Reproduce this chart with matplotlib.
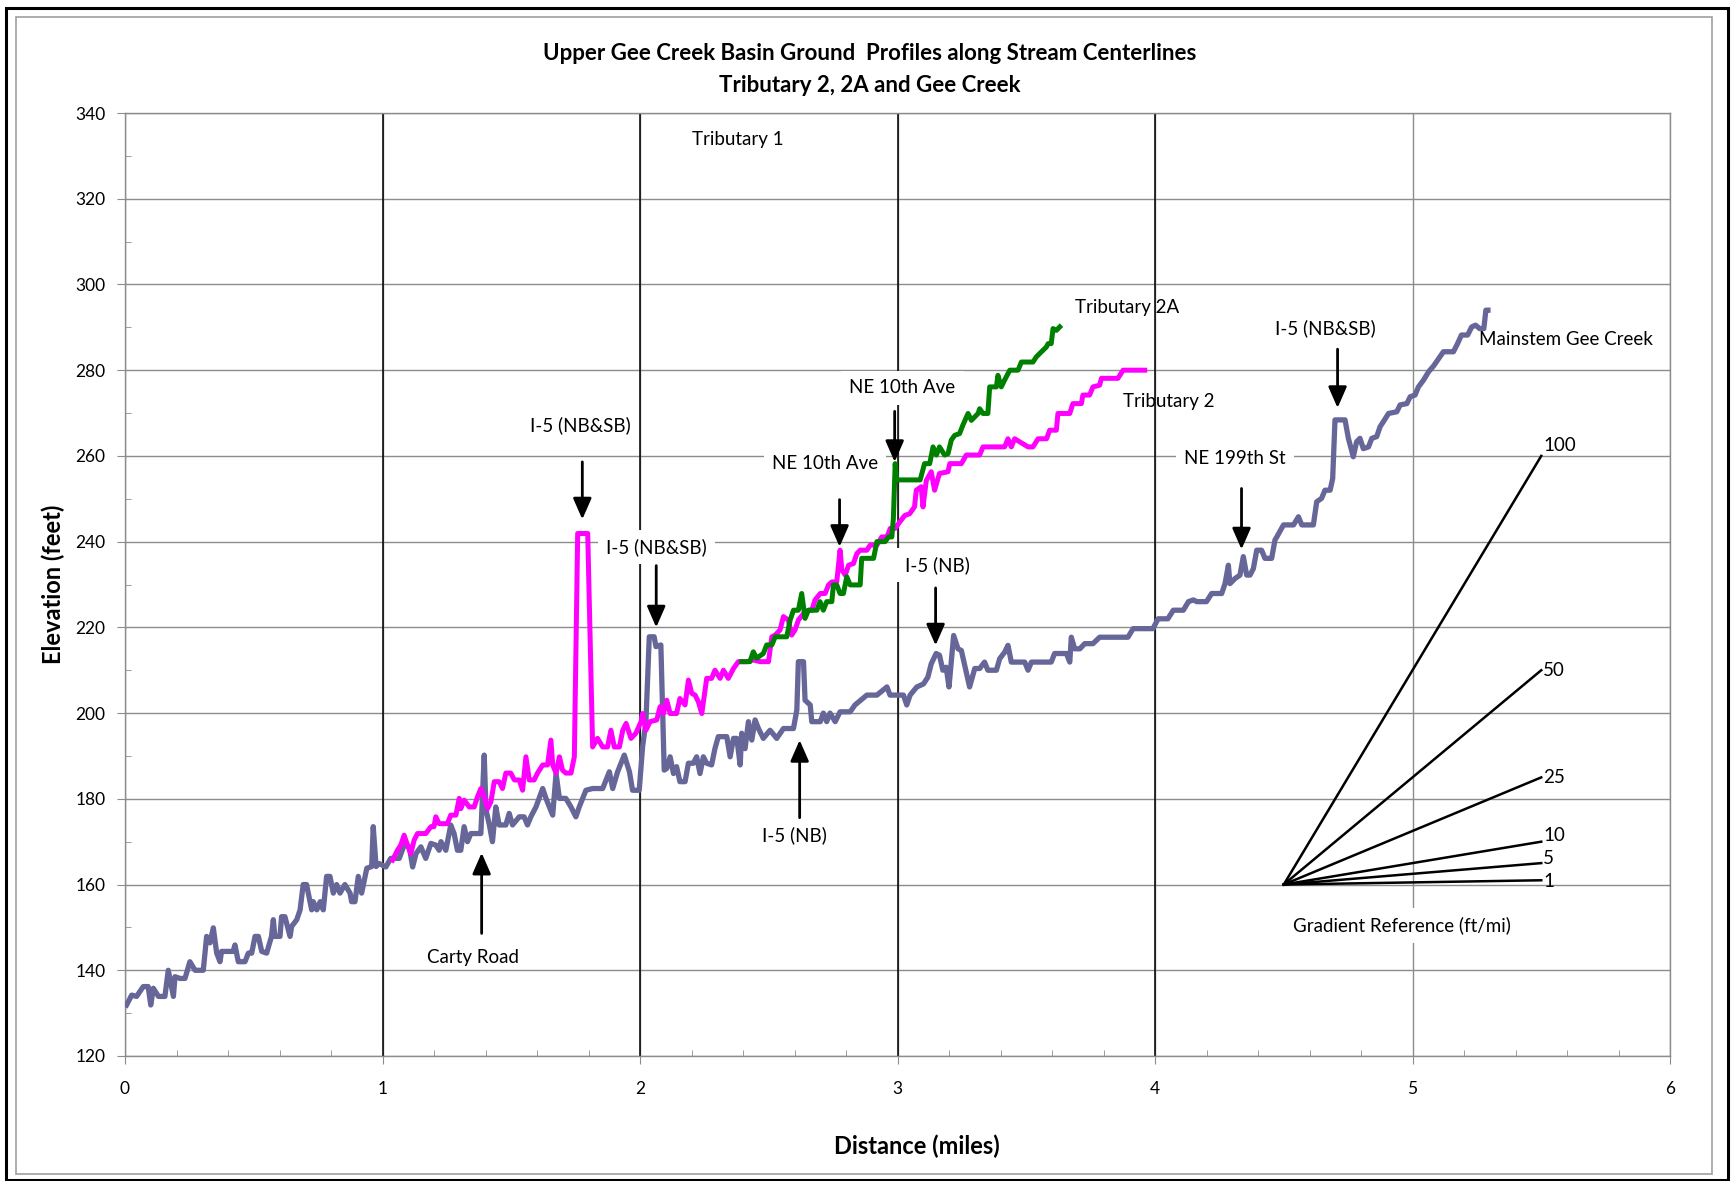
import matplotlib
matplotlib.use("Agg")
import matplotlib.pyplot as plt
from matplotlib.patches import Rectangle
from matplotlib.ticker import MultipleLocator

# ────────────────────────────────────────────────────────────────
# DATA (distance in miles, elevation in feet)
# ────────────────────────────────────────────────────────────────
gee_x = [0.006, 0.026, 0.045, 0.071, 0.09, 0.10, 0.11, 0.13, 0.155, 0.168, 0.188, 0.194, 0.213, 0.233,
         0.252, 0.272, 0.304, 0.317, 0.33, 0.343, 0.356, 0.369, 0.375, 0.42, 0.427, 0.44, 0.466, 0.479,
         0.492, 0.505, 0.518, 0.531, 0.55, 0.569, 0.576, 0.582, 0.602, 0.608, 0.621, 0.641, 0.647, 0.667,
         0.680, 0.692, 0.705, 0.725, 0.731, 0.745, 0.758, 0.77, 0.783, 0.796, 0.809, 0.822, 0.835, 0.854,
         0.874, 0.88, 0.893, 0.906, 0.919, 0.939, 0.958, 0.964, 0.975, 0.987, 1.013, 1.032, 1.065, 1.084,
         1.104, 1.117, 1.13, 1.149, 1.168, 1.188, 1.207, 1.22, 1.227, 1.246, 1.265, 1.278, 1.291, 1.304,
         1.317, 1.33, 1.343, 1.382, 1.395, 1.402, 1.415, 1.427, 1.44, 1.453, 1.479, 1.492, 1.505, 1.531,
         1.55, 1.563, 1.576, 1.596, 1.622, 1.635, 1.648, 1.661, 1.674, 1.687, 1.712, 1.732, 1.751, 1.764,
         1.79, 1.816, 1.855, 1.881, 1.894, 1.913, 1.939, 1.959, 1.971, 1.997, 2.010, 2.023, 2.036, 2.055,
         2.062, 2.081, 2.088, 2.094, 2.104, 2.117, 2.13, 2.142, 2.155, 2.175, 2.188, 2.207, 2.22, 2.233,
         2.246, 2.259, 2.278, 2.291, 2.304, 2.337, 2.35, 2.363, 2.376, 2.389, 2.395, 2.408, 2.421, 2.434,
         2.447, 2.46, 2.479, 2.505, 2.531, 2.557, 2.596, 2.609, 2.615, 2.635, 2.641, 2.661, 2.667, 2.7,
         2.712, 2.725, 2.738, 2.758, 2.777, 2.816, 2.835, 2.881, 2.92, 2.959, 2.971, 3.023, 3.036, 3.049,
         3.075, 3.101, 3.118, 3.131, 3.15, 3.163, 3.176, 3.189, 3.2, 3.218, 3.235, 3.248, 3.261, 3.28,
         3.3, 3.319, 3.338, 3.351, 3.384, 3.397, 3.416, 3.429, 3.442, 3.494, 3.507, 3.52, 3.597, 3.61,
         3.656, 3.669, 3.675, 3.688, 3.708, 3.727, 3.759, 3.785, 3.895, 3.915, 3.992, 4.012, 4.05, 4.071,
         4.11, 4.13, 4.149, 4.162, 4.2, 4.22, 4.259, 4.272, 4.285, 4.291, 4.311, 4.33, 4.343, 4.356,
         4.369, 4.382, 4.395, 4.414, 4.427, 4.453, 4.466, 4.473, 4.499, 4.538, 4.557, 4.57, 4.615, 4.628,
         4.647, 4.66, 4.68, 4.69, 4.699, 4.738, 4.751, 4.77, 4.783, 4.796, 4.809, 4.829, 4.842, 4.861,
         4.874, 4.887, 4.907, 4.939, 4.952, 4.978, 4.991, 5.01, 5.023, 5.043, 5.062, 5.082, 5.12, 5.159,
         5.175, 5.19, 5.214, 5.23, 5.245, 5.261, 5.277, 5.285, 5.293]
gee_y = [131.9, 134.2, 133.9, 136.2, 136.2, 131.9, 135.8, 133.9, 133.9, 140, 133.9, 138.5, 138.1, 138.1,
         142, 140, 140, 147.9, 146.4, 149.9, 144, 142, 144.4, 144.4, 145.9, 142, 142, 144,
         144, 147.9, 147.9, 144.4, 144, 147.9, 151.8, 147.9, 147.9, 152.5, 152.5, 147.9, 150.2, 151.8,
         154.1, 160, 160, 154.1, 156, 154.1, 156, 154.1, 161.9, 161.9, 158, 160, 158, 160,
         158, 156, 156, 161.9, 158, 163.8, 164.2, 173.5, 164.2, 164.9, 164.1, 166.1, 166.1, 169.2,
         168.8, 164.1, 167.2, 168.8, 166.1, 169.6, 169.2, 168, 170, 168, 173.9, 171.9, 168, 168,
         173.5, 170, 171.9, 171.9, 190.2, 177.4, 173.9, 170, 178.1, 173.9, 173.9, 176.6, 173.9, 175.8,
         175.8, 173.9, 175.8, 178.1, 182.4, 180.1, 178.1, 176.2, 185.9, 180.1, 180.1, 178.1, 175.8, 178.1,
         182, 182.4, 182.4, 186.3, 182.4, 186.3, 190.2, 186.3, 182, 182, 192.1, 198, 217.8, 217.8,
         215.5, 215.9, 199.9, 186.7, 187.1, 189.8, 185.9, 187.5, 184, 184, 188.3, 188.3, 189.8, 185.9,
         189.8, 188.3, 187.9, 191.7, 194.5, 194.5, 189.8, 194.1, 194.1, 187.9, 195.3, 191.7, 198, 193.7,
         198.4, 196.4, 194.1, 196.0, 194.1, 196.4, 196.4, 200.7, 212, 212, 203, 201.9, 198, 198,
         200, 198, 200, 198, 200.3, 200.3, 201.9, 204.2, 204.2, 206.1, 204.2, 204.2, 201.9, 204.2,
         206.1, 206.8, 208.4, 211.5, 213.9, 213.5, 210, 210.7, 206.1, 218.1, 215, 214.6, 211.1, 206.1,
         210.4, 210.4, 211.9, 210, 210, 212.7, 214.2, 215.8, 211.9, 211.9, 210, 211.9, 211.9, 213.9,
         213.9, 211.9, 217.7, 215, 215, 216.2, 216.2, 217.7, 217.7, 219.7, 219.7, 222, 222, 224,
         224, 226, 226.4, 226, 226, 227.9, 227.9, 230.2, 234.5, 230.2, 231.4, 232.2, 236.5, 232.2,
         232.2, 233.7, 238, 238, 236.1, 236.1, 240.4, 241.1, 243.9, 243.9, 245.8, 243.9, 243.9, 249.3,
         250.1, 252, 252, 254.7, 268.4, 268.4, 264.1, 259.8, 263.3, 264.1, 261.7, 262.1, 264.1, 264.5,
         266.8, 268, 269.9, 270.3, 271.9, 272.2, 273.8, 274.2, 276.1, 277.7, 279.6, 281, 284.3, 284.3,
         286.2, 288.2, 288.2, 290.1, 290.5, 289.7, 289.7, 294, 294]

trib2_x = [1.039, 1.058, 1.071, 1.084, 1.097, 1.11, 1.123, 1.136, 1.168, 1.188, 1.2, 1.207, 1.22, 1.252,
           1.265, 1.285, 1.298, 1.304, 1.317, 1.337, 1.356, 1.369, 1.382, 1.395, 1.408, 1.421, 1.434, 1.453,
           1.466, 1.479, 1.498, 1.512, 1.531, 1.544, 1.557, 1.57, 1.589, 1.602, 1.622, 1.641, 1.654, 1.661,
           1.674, 1.687, 1.699, 1.712, 1.732, 1.745, 1.758, 1.797, 1.816, 1.835, 1.855, 1.874, 1.887, 1.9,
           1.92, 1.933, 1.946, 1.965, 1.984, 2.004, 2.01, 2.023, 2.039, 2.065, 2.078, 2.091, 2.104, 2.117,
           2.142, 2.155, 2.175, 2.188, 2.201, 2.214, 2.227, 2.24, 2.259, 2.278, 2.291, 2.311, 2.324, 2.343,
           2.363, 2.382, 2.415, 2.44, 2.466, 2.499, 2.512, 2.525, 2.544, 2.557, 2.576, 2.589, 2.602, 2.615,
           2.635, 2.654, 2.667, 2.68, 2.7, 2.719, 2.732, 2.745, 2.764, 2.777, 2.784, 2.797, 2.81, 2.829,
           2.842, 2.855, 2.881, 2.894, 2.92, 2.939, 2.959, 2.972, 2.991, 3.004, 3.028, 3.047, 3.066, 3.073,
           3.092, 3.099, 3.112, 3.131, 3.144, 3.163, 3.196, 3.203, 3.248, 3.267, 3.319, 3.332, 3.416, 3.429,
           3.442, 3.455, 3.474, 3.507, 3.526, 3.546, 3.579, 3.591, 3.617, 3.623, 3.669, 3.681, 3.714, 3.72,
           3.746, 3.759, 3.785, 3.792, 3.856, 3.876, 3.915, 3.96]
trib2_y = [165.7, 168, 169.2, 171.5, 169.2, 167.2, 170.4, 171.9, 171.9, 173.5, 173.5, 175.8, 174.2, 174.2,
           176.2, 176.2, 180.1, 177.7, 179.7, 178.1, 178.1, 180.5, 182.4, 180.5, 177.7, 179.3, 184, 184,
           182.4, 186, 186, 184.4, 184.4, 182, 189.8, 184.4, 184.4, 186, 187.9, 187.9, 193.7, 187.9,
           186, 189.8, 186.7, 186, 186, 189.8, 241.9, 241.9, 192.1, 194.1, 192.1, 192.1, 196, 192.1,
           192.1, 196, 197.6, 194.1, 195.3, 198, 199.9, 196, 198, 198.4, 201.5, 199.9, 203, 199.9,
           199.9, 203.4, 201.9, 207.7, 204.6, 204.2, 202.6, 199.9, 208.1, 208.1, 210, 208.1, 210, 208.1,
           210.4, 212, 212, 212.4, 212, 212, 217.8, 218.2, 219.4, 222.5, 221.7, 218.2, 219.4, 221.7,
           223.2, 224, 224, 226.4, 227.9, 227.9, 229.9, 230.6, 230.6, 238, 233.4, 232.2, 234.5, 234.9,
           237.2, 238, 238, 239.2, 239.2, 241.1, 241.1, 243.1, 243.1, 244.2, 246.1, 246.5, 248.1, 252,
           252.8, 248.1, 254.3, 256.3, 252, 255.9, 256.3, 258.2, 258.2, 260.2, 260.2, 262.1, 262.1, 264,
           262.1, 264, 263.3, 262.1, 262.1, 264, 264, 266, 266, 269.9, 269.9, 272.2, 272.2, 274.2,
           274.2, 276.1, 276.5, 278.1, 278.1, 280, 280, 280]

trib2a_x = [2.395, 2.427, 2.44, 2.453, 2.479, 2.492, 2.512, 2.525, 2.57, 2.583, 2.596, 2.615, 2.628, 2.641,
            2.654, 2.687, 2.699, 2.712, 2.725, 2.745, 2.751, 2.764, 2.777, 2.79, 2.803, 2.816, 2.855, 2.861,
            2.907, 2.92, 2.952, 2.965, 2.978, 2.984, 2.991, 2.997, 3.088, 3.105, 3.125, 3.138, 3.151, 3.163,
            3.183, 3.196, 3.209, 3.222, 3.241, 3.254, 3.274, 3.287, 3.313, 3.319, 3.332, 3.351, 3.358, 3.384,
            3.39, 3.403, 3.416, 3.436, 3.468, 3.481, 3.526, 3.539, 3.559, 3.578, 3.585, 3.597, 3.604, 3.617,
            3.63]
trib2a_y = [212, 212, 214.3, 212.8, 213.9, 215.9, 215.9, 217.8, 217.8, 221.7, 224, 224, 227.9, 222.1,
            224, 224, 226, 224, 226, 226, 229.9, 229.9, 227.9, 227.9, 231.8, 229.9, 229.9, 236.1,
            236.1, 240, 240, 241.1, 241.1, 245.4, 258.2, 254.4, 254.4, 258.2, 258.2, 262.1, 260.2, 262.1,
            260.2, 260.5, 263.7, 264.8, 265.2, 267.2, 269.9, 268.3, 269.9, 271, 269.9, 269.9, 276.1, 276.1,
            278.8, 276.1, 277.7, 280, 280, 281.9, 281.9, 283.1, 284.3, 285.4, 286.2, 286.2, 289.7, 289.3,
            290.1]

# gradient reference fan: slopes in ft/mi, drawn from one origin over one mile
grad_slopes = [100, 50, 25, 10, 5, 1]
grad_label_dy = [2.5, 0, 0, 1.5, 1, -0.3]
grad_origin = (4.5, 160)
grad_run = 1.0

# (label, label x, label y, arrow x, arrow tail y, arrow tip y)
arrow_notes = [
    ("I-5 (NB&SB)", 1.767, 267.1, 1.776, 258.6, 245.2),
    ("I-5 (NB&SB)", 2.063, 238.8, 2.063, 234.4, 220.0),
    ("NE 10th Ave", 2.719, 258.3, 2.775, 249.8, 238.8),
    ("NE 10th Ave", 3.019, 275.9, 2.989, 270.4, 258.6),
    ("I-5 (NB)", 3.157, 234.6, 3.148, 229.2, 215.8),
    ("NE 199th St", 4.310, 259.4, 4.336, 252.4, 238.2),
    ("I-5 (NB&SB)", 4.662, 289.8, 4.709, 284.9, 271.2),
    ("I-5 (NB)", 2.599, 171.5, 2.620, 175.6, 193.7),
    ("Carty Road", 1.351, 142.9, 1.385, 148.6, 167.4),
]

# ────────────────────────────────────────────────────────────────
# STYLE
# ────────────────────────────────────────────────────────────────
plt.rcParams['font.family'] = ['Lato', 'DejaVu Sans']
GRID = '#8c8c8c'
PURPLE = '#666699'
MAGENTA = '#ff00ff'
GREEN = '#008000'
NOTE_SIZE = 13.5

fig = plt.figure(figsize=(17.32, 11.81), dpi=100)
ax = fig.add_axes([125 / 1732, 1 - 1056 / 1181, (1670 - 125) / 1732, (1056 - 113) / 1181])

# chart frames
fig.add_artist(Rectangle((6 / 1732, 1 / 1181), 1722 / 1732, 1172 / 1181, transform=fig.transFigure,
                         fill=False, ec='black', lw=2.2))
fig.add_artist(Rectangle((16 / 1732, 7 / 1181), 1696 / 1732, 1157 / 1181, transform=fig.transFigure,
                         fill=False, ec='#a0a0a0', lw=1.2))

# ────────────────────────────────────────────────────────────────
# PLOT
# ────────────────────────────────────────────────────────────────
ax.set_xlim(0, 6)
ax.set_ylim(120, 340)
ax.yaxis.set_major_locator(MultipleLocator(20))
ax.yaxis.set_minor_locator(MultipleLocator(10))
ax.xaxis.set_major_locator(MultipleLocator(1))
ax.xaxis.set_minor_locator(MultipleLocator(0.2))
ax.tick_params(which='major', direction='out', length=6, color=GRID, labelsize=12.5, pad=8)
ax.tick_params(which='minor', direction='in', length=4, color=GRID)
ax.tick_params(axis='x', which='major', pad=12)
for s in ax.spines.values():
    s.set_color(GRID)
    s.set_linewidth(1)

ax.grid(True, which='major', color=GRID, lw=1)
for xv in [1, 2, 3, 4]:
    ax.axvline(xv, color='black', lw=1.1, zorder=2)

ax.plot(gee_x, gee_y, color=PURPLE, lw=3.8, zorder=5, solid_joinstyle='round')
ax.plot(trib2_x, trib2_y, color=MAGENTA, lw=3.6, zorder=6, solid_joinstyle='round')
ax.plot(trib2a_x, trib2a_y, color=GREEN, lw=3.6, zorder=7, solid_joinstyle='round')

# gradient reference fan
x0, y0 = grad_origin
for g, dy in zip(grad_slopes, grad_label_dy):
    ax.plot([x0, x0 + grad_run], [y0, y0 + g * grad_run], color='black', lw=1.8, zorder=4)
    ax.text(x0 + grad_run + 0.008, y0 + g * grad_run + dy, str(g), fontsize=NOTE_SIZE,
            ha='left', va='center', zorder=8)
ax.text(4.96, 150.4, "Gradient Reference (ft/mi)", fontsize=NOTE_SIZE, ha='center', va='center', zorder=8,
        bbox=dict(fc='white', ec='none', pad=6))

# series labels
ax.text(2.379, 333.8, "Tributary 1", fontsize=NOTE_SIZE, ha='center', va='center')
ax.text(3.688, 294.7, "Tributary 2A", fontsize=NOTE_SIZE, ha='left', va='center', zorder=8)
ax.text(3.877, 272.8, "Tributary 2", fontsize=NOTE_SIZE, ha='left', va='center', zorder=8)
ax.text(5.258, 287.2, "Mainstem Gee Creek", fontsize=NOTE_SIZE, ha='left', va='center', zorder=8)

# road crossing arrows
for label, lx, ly, axx, tail, tip in arrow_notes:
    box = None if label == "Carty Road" else dict(fc='white', ec='none', pad=6)
    ax.text(lx, ly, label, fontsize=NOTE_SIZE, ha='center', va='center', zorder=8, bbox=box)
    ax.annotate('', xy=(axx, tip), xytext=(axx, tail), zorder=8,
                arrowprops=dict(arrowstyle='-|>,head_width=0.35,head_length=0.8',
                                color='black', lw=2, shrinkA=0, shrinkB=0, mutation_scale=16))

fig.text(0.502, 1 - 53 / 1181, "Upper Gee Creek Basin Ground  Profiles along Stream Centerlines",
         fontsize=16, fontweight='bold', ha='center', va='center')
fig.text(0.502, 1 - 85 / 1181, "Tributary 2, 2A and Gee Creek",
         fontsize=16, fontweight='bold', ha='center', va='center')
ax.set_xlabel("Distance (miles)", fontsize=17, fontweight='bold')
ax.set_ylabel("Elevation (feet)", fontsize=17, fontweight='bold')
ax.xaxis.set_label_coords((917 - 125) / 1545, -(1147 - 1056 - 12) / 943)
ax.yaxis.set_label_coords(-(125 - 65) / 1545, 0.5)

plt.savefig("out.png", dpi=100)
plt.close()
